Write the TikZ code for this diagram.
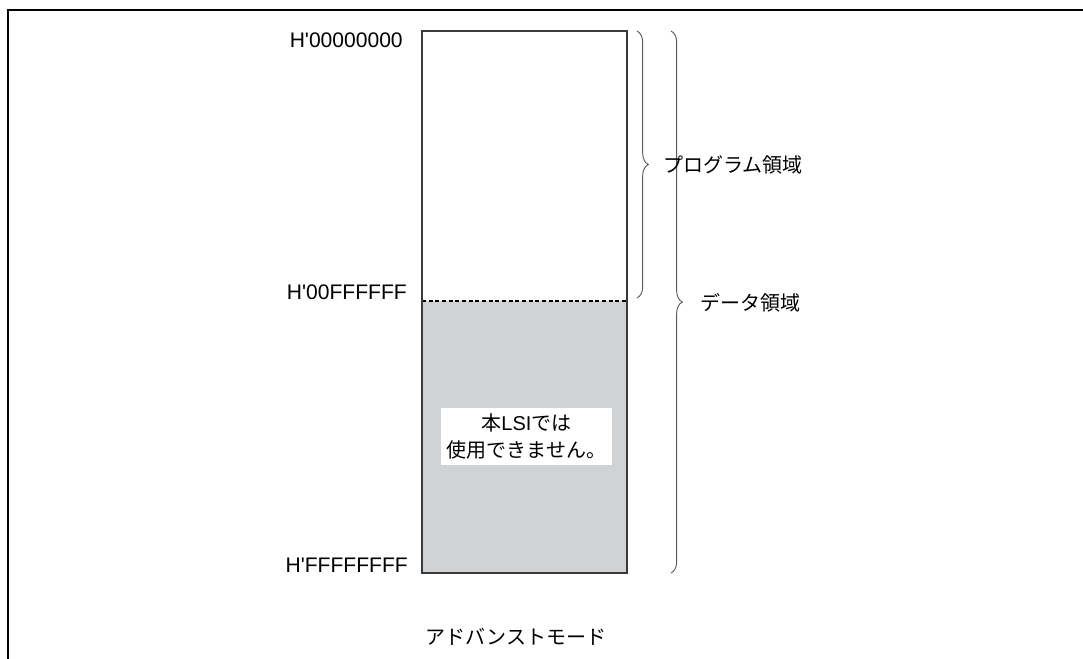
\documentclass[tikz,border=0pt]{standalone}
\usepackage{fontspec}
\setmainfont{Liberation Sans}
\newfontfamily\jpfont{Noto Sans CJK JP}
\usetikzlibrary{positioning,decorations.pathreplacing}

\definecolor{areagray}{HTML}{D1D2D4}
\definecolor{edgegray}{HTML}{3A3A3A}
\definecolor{bracegray}{HTML}{5A5A5A}

\tikzset{
	addr/.style={anchor=east,inner sep=0pt,font=\fontsize{15.8}{18}\selectfont},
	jplabel/.style={inner sep=0pt,font=\fontsize{15}{18}\selectfont\jpfont},
	areabrace/.style={draw=bracegray,line width=0.7pt,decorate,decoration={brace,amplitude=8.5pt}}
}

\begin{document}
\begin{tikzpicture}[x=0.75pt,y=-0.75pt,every node/.style={black}]
	\useasboundingbox (0,0) rectangle (1083,658);

	% frame
	\draw[line width=1.9pt] (8,670) -- (8,10) -- (1095,10);

	\coordinate (memTL) at (422,31);
	\coordinate (memBR) at (627,573);
	\coordinate (splitL) at (422,301);
	\coordinate (splitR) at (627,301);

	\fill[areagray] (splitL) rectangle (memBR);
	\draw[dashed,dash pattern=on 3pt off 2pt,line width=0.8pt] (splitL) -- (splitR);
	\draw[edgegray,line width=1.1pt] (memTL) rectangle (memBR);

	\node[fill=white,minimum width=171*0.75pt,minimum height=57*0.75pt,align=center,
		inner sep=0pt,font=\fontsize{15}{20.5}\selectfont] (note) at (526.5,436.5)
		{{\jpfont 本}LSI{\jpfont では}\\{\jpfont 使用できません。}};

	\node[addr] (a0) at (403,40.5) {H\textquotesingle 00000000};
	\node[addr] (a1) at (407,292) {H\textquotesingle 00FFFFFF};
	\node[addr] (a2) at (408,565) {H\textquotesingle FFFFFFFF};

	% braces
	\coordinate (progTop) at (637,31);
	\coordinate (progEnd) at (637,298);
	\coordinate (dataTop) at (671,31);
	\coordinate (dataEnd) at (671,573);

	\draw[areabrace] (progTop) -- (progEnd);
	\draw[areabrace] (dataTop) -- (dataEnd);

	\node[jplabel,anchor=west] (progLabel) at (663,165) {プログラム領域};
	\node[jplabel,anchor=west] (dataLabel) at (700,303) {データ領域};

	\node[jplabel] (mode) at (516,637) {アドバンストモード};
\end{tikzpicture}
\end{document}
